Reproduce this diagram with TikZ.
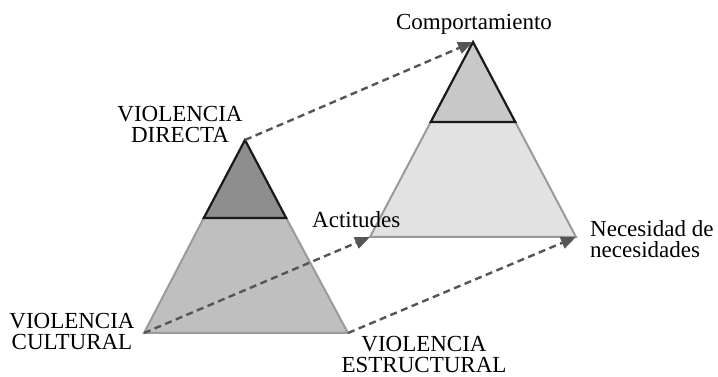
\documentclass[tikz,border=0pt]{standalone}
\usepackage{fontspec}
\setmainfont{Liberation Serif}
\usetikzlibrary{arrows.meta}
\definecolor{arrowgray}{HTML}{555555}
\definecolor{ltop}{HTML}{8E8E8E}
\definecolor{lbot}{HTML}{BFBFBF}
\definecolor{rtop}{HTML}{C8C8C8}
\definecolor{rbot}{HTML}{E2E2E2}
\definecolor{edgegray}{HTML}{9A9A9A}
\begin{document}
\begin{tikzpicture}[x=1pt,y=1pt,
  lbl/.style={inner sep=0pt,font=\fontsize{23}{21}\selectfont,align=center},
  dasharrow/.style={draw=arrowgray,line width=2.4pt,dash pattern=on 7pt off 4.5pt,
    -{Triangle[length=15pt,width=12pt,fill=arrowgray]}, shorten >=0pt},
  bottomtri/.style={draw=edgegray,line width=2pt,line join=miter},
  toptri/.style={draw=black!90,line width=2.2pt,line join=miter}]
\useasboundingbox (0,0) rectangle (718,377);
% left pyramid
\coordinate (LA) at (245,237);
\coordinate (LBL) at (144,44);
\coordinate (LBR) at (348,44);
\coordinate (LML) at (203.8,159);
\coordinate (LMR) at (286.2,159);
% right pyramid
\coordinate (RA) at (473,335);
\coordinate (RBL) at (370,140);
\coordinate (RBR) at (576,140);
\coordinate (RML) at (430.7,255);
\coordinate (RMR) at (515.3,255);
% right shapes
\filldraw[bottomtri,fill=rbot] (RML) -- (RBL) -- (RBR) -- (RMR) -- cycle;
\filldraw[toptri,fill=rtop] (RA) -- (RML) -- (RMR) -- cycle;
% left shapes
\filldraw[bottomtri,fill=lbot] (LML) -- (LBL) -- (LBR) -- (LMR) -- cycle;
\filldraw[toptri,fill=ltop] (LA) -- (LML) -- (LMR) -- cycle;
% labels (base anchor = baseline of the last line)
\node[lbl,anchor=base] (comp) at (474,347) {Comportamiento};
\node[lbl,anchor=base] (vd) at (180,234) {VIOLENCIA\\DIRECTA};
\node[lbl,anchor=base] (vc) at (72,27) {VIOLENCIA\\CULTURAL};
\node[lbl,anchor=base] (ve) at (424,4) {VIOLENCIA\\ESTRUCTURAL};
\node[lbl,anchor=base west] (act) at (312,149) {Actitudes};
\node[lbl,anchor=base west,align=left] (nec) at (590,119) {Necesidad de\\necesidades};
% arrows
\draw[dasharrow] (LA) -- (RA);
\draw[dasharrow] (LBL) -- (RBL);
\draw[dasharrow] (LBR) -- (RBR);
\end{tikzpicture}
\end{document}
